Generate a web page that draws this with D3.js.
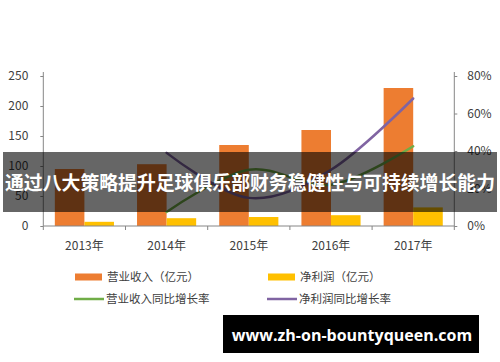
<!DOCTYPE html>
<html><head><meta charset="utf-8">
<script src="https://cdn.jsdelivr.net/npm/d3@7"></script>
<style>body{margin:0;background:#fff}svg{display:block}</style>
</head><body>
<svg id="c" width="500" height="362"></svg>
<script>
const years = ["2013年","2014年","2015年","2016年","2017年"];
const revenue = [95, 103, 135, 160, 230];
const profit = [7, 13, 15, 18, 31];
const revGrowth = [null, 7.5, 30, 22, 42.5];
const profitGrowth = [null, 39, 15, 30, 68];
const leftTicks = [0, 50, 100, 150, 200, 250];
const rightTicks = [0, 20, 40, 60, 80];
const legendNames = ["营业收入（亿元）","净利润（亿元）","营业收入同比增长率","净利润同比增长率"];
const title = "通过八大策略提升足球俱乐部财务稳健性与可持续增长能力";
const watermark = "www.zh-on-bountyqueen.com";

const svg = d3.select("#c");
const L = 43.3, R = 454.3, T = 76, B = 226;
const font = "'Noto Sans CJK SC','Noto Sans',sans-serif";
const axisCol = "#868686", textCol = "#404040";

const x = d3.scaleBand().domain(years).range([L, R]).paddingInner(0).paddingOuter(0);
const y = d3.scaleLinear().domain([0, 250]).range([B, T]);
const y2 = d3.scaleLinear().domain([0, 80]).range([B, T]);
const inner = d3.scaleBand().domain(["r","p"]).range([0, x.bandwidth()]).paddingOuter(0.39).paddingInner(0);

// bars
const g = svg.append("g");
g.selectAll("rect.r").data(years).enter().append("rect")
  .attr("x", d => x(d) + inner("r")).attr("width", inner.bandwidth())
  .attr("y", (d,i) => y(revenue[i])).attr("height", (d,i) => B - y(revenue[i]))
  .attr("fill", "#ED7D31");
g.selectAll("rect.p").data(years).enter().append("rect")
  .attr("x", d => x(d) + inner("p")).attr("width", inner.bandwidth())
  .attr("y", (d,i) => y(profit[i])).attr("height", (d,i) => B - y(profit[i]))
  .attr("fill", "#FFC000");

// axes
const la = d3.axisLeft(y).tickValues(leftTicks).tickSize(3).tickPadding(12);
const lg = svg.append("g").attr("transform", `translate(${L},0)`).call(la);
const ra = d3.axisRight(y2).tickValues(rightTicks).tickSize(3).tickPadding(10).tickFormat(d => d + "%");
const rg = svg.append("g").attr("transform", `translate(${R},0)`).call(ra);
const ba = d3.axisBottom(x).tickSize(0).tickPadding(15);
const bg = svg.append("g").attr("transform", `translate(0,${B})`).call(ba);
[lg, rg, bg].forEach(s => {
  s.selectAll("path.domain").attr("stroke", axisCol);
  s.selectAll(".tick line").attr("stroke", axisCol);
  s.selectAll("text").attr("fill", textCol).attr("font-family", font).attr("font-size", 12);
});
lg.select("path.domain").attr("d", `M0,${T-4}V${B}`);
rg.select("path.domain").attr("d", `M0,${T-4}V${B}`);
bg.select("path.domain").attr("d", `M${L},0H${R}`);
bg.selectAll("line.cb").data(years.concat(["end"])).enter().append("line")
  .attr("class","cb")
  .attr("x1", (d,i) => i < years.length ? x(d) : R).attr("x2", (d,i) => i < years.length ? x(d) : R)
  .attr("y1", 0).attr("y2", 4).attr("stroke", axisCol);

// lines
const line = (vals, sc) => d3.line()
  .x(d => x(d[0]) + x.bandwidth()/2).y(d => sc(d[1]))
  .curve(d3.curveCatmullRom.alpha(0))(years.map((yr,i) => [yr, vals[i]]).filter(d => d[1] != null));
svg.append("path").attr("d", line(revGrowth, y2)).attr("fill","none").attr("stroke","#70AD47").attr("stroke-width",2.5).attr("stroke-linecap","round");
svg.append("path").attr("d", line(profitGrowth, y2)).attr("fill","none").attr("stroke","#8064A2").attr("stroke-width",2.5).attr("stroke-linecap","round");

// legend
const lgd = svg.append("g").attr("font-family", font).attr("font-size", 11.5).attr("fill", textCol);
const lpos = [[75,277,"rect","#ED7D31"],[268,277,"rect","#FFC000"],[74,299,"line","#70AD47"],[267,299,"line","#8064A2"]];
lpos.forEach((p,i) => {
  if (p[2] === "rect") lgd.append("rect").attr("x", p[0]).attr("y", p[1]-3.5).attr("width", 27).attr("height", 7).attr("fill", p[3]);
  else lgd.append("line").attr("x1", p[0]).attr("x2", p[0]+30).attr("y1", p[1]).attr("y2", p[1]).attr("stroke", p[3]).attr("stroke-width", 2.5);
  lgd.append("text").attr("x", p[0] + 32).attr("y", p[1]).attr("dy", "0.36em").text(legendNames[i]);
});

// banner
svg.append("rect").attr("x", 3).attr("y", 152).attr("width", 494).attr("height", 60).attr("fill", "rgba(0,0,0,0.6)");
svg.append("text").attr("x", 250).attr("y", 183).attr("dy", "0.36em").attr("text-anchor", "middle")
  .attr("font-family", font).attr("font-weight", "bold").attr("font-size", 19).attr("fill", "#fff")
  .attr("textLength", 490).attr("lengthAdjust", "spacingAndGlyphs").text(title);

// watermark
svg.append("rect").attr("x", 223).attr("y", 315).attr("width", 256).attr("height", 38).attr("fill", "#000");
svg.append("text").attr("x", 352).attr("y", 335).attr("dy", "0.36em").attr("text-anchor", "middle")
  .attr("font-family", "'Open Sans','Noto Sans',sans-serif").attr("font-weight", "bold").attr("font-size", 16).attr("fill", "#fff").text(watermark);
</script>
</body></html>
